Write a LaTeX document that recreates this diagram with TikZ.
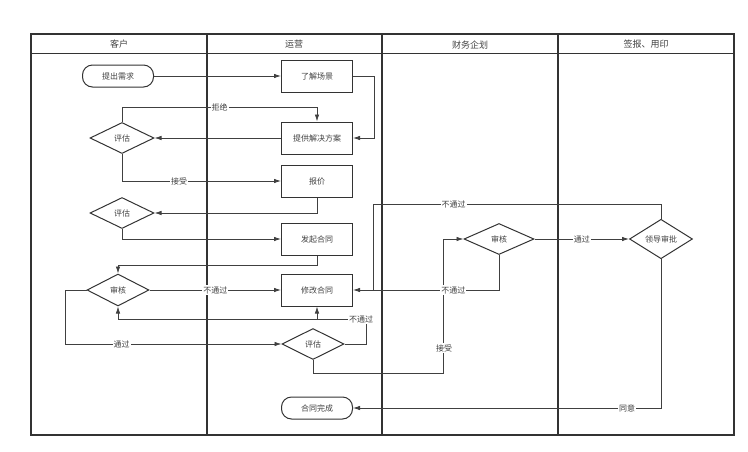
\documentclass[tikz,border=0pt]{standalone}
\usepackage{fontspec}
\setmainfont{Noto Sans CJK SC}
\usetikzlibrary{arrows.meta,shapes.geometric}

\begin{document}
\begin{tikzpicture}[
  x=1pt,y=-1pt,
  every node/.style={font=\fontsize{8}{9}\selectfont,text=black!75},
  box/.style={draw=black!80,line width=1pt,minimum width=71pt,minimum height=32pt},
  term/.style={draw=black!80,line width=1pt,rounded corners=10pt,minimum width=71pt,minimum height=22pt},
  dec/.style={draw=black!80,line width=1pt,diamond,inner sep=0pt,minimum width=64pt,minimum height=31pt},
  link/.style={draw=black!75,line width=0.8pt,-{Latex[length=7pt,width=4.5pt]}},
  tag/.style={fill=white,inner sep=1pt}
]
  \useasboundingbox (0,0) rectangle (748,451);

  % lanes
  \draw[line width=1.3pt,black!80] (31,34) rectangle (734,435);
  \draw[line width=1pt,black!80] (31,53) -- (734,53);
  \foreach \x in {207,382,558}
    \draw[line width=1.3pt,black!80] (\x,34) -- (\x,435);
  \node[font=\fontsize{9}{10}\selectfont] at (119,44) {客户};
  \node[font=\fontsize{9}{10}\selectfont] at (294,44) {运营};
  \node[font=\fontsize{9}{10}\selectfont] at (470,45) {财务企划};
  \node[font=\fontsize{9}{10}\selectfont] at (646,44) {签报、用印};

  % nodes
  \node[term] (need) at (118,76) {提出需求};
  \node[box] (scene) at (317,76) {了解场景};
  \node[box] (plan) at (317,138) {提供解决方案};
  \node[dec] (evalA) at (122,138) {评估};
  \node[box] (quote) at (317,181) {报价};
  \node[dec] (evalB) at (122,213) {评估};
  \node[box] (launch) at (317,239) {发起合同};
  \node[dec,minimum width=62pt,minimum height=32pt] (checkA) at (118,290) {审核};
  \node[box] (modify) at (317,290) {修改合同};
  \node[dec,minimum width=62pt] (evalC) at (313,344) {评估};
  \node[term] (done) at (317,408) {合同完成};
  \node[dec,minimum width=70pt] (checkB) at (499,239) {审核};
  \node[dec,minimum width=63pt] (boss) at (661,239) {领导审批};
  \coordinate (back) at (317,319);

  % connectors
  \draw[link] (need) -- (scene);
  \draw[link] (scene.east) -- ++(21,0) |- (plan.east);
  \draw[link] (plan) -- (evalA);
  \draw[link] (evalA.north) -- ++(0,-15) -| node[tag,pos=0.25] {拒绝} (plan.north);
  \draw[link] (evalA.south) |- node[tag,pos=0.68] {接受} (quote.west);
  \draw[link] (quote.south) |- (evalB.east);
  \draw[link] (evalB.south) |- (launch.west);
  \draw[link] (launch.south) -- ++(0,10) -| (checkA.north);
  \draw[link] (checkA) -- node[tag] {不通过} (modify);
  \draw[link] (checkA.west) -- ++(-21,0) |- node[tag,pos=0.63] {通过} (evalC.west);
  \draw[link] (evalC.east) -| (366,319) -| (checkA.south);
  \draw[link] (back) -- (modify.south);
  \node[tag] at (361,319) {不通过};
  \draw[link] (evalC.south) |- (443,373) |- (checkB.west);
  \node[tag] at (444,348) {接受};
  \draw[link] (checkB.south) |- node[tag,pos=0.656] {不通过} (modify.east);
  \draw[link] (checkB) -- node[tag] {通过} (boss);
  \draw[draw=black!75,line width=0.8pt] (boss.north) -- ++(0,-14) -| node[tag,pos=0.36] {不通过} (373,290);
  \draw[link] (boss.south) |- node[tag,pos=0.555] {同意} (done.east);
\end{tikzpicture}
\end{document}
